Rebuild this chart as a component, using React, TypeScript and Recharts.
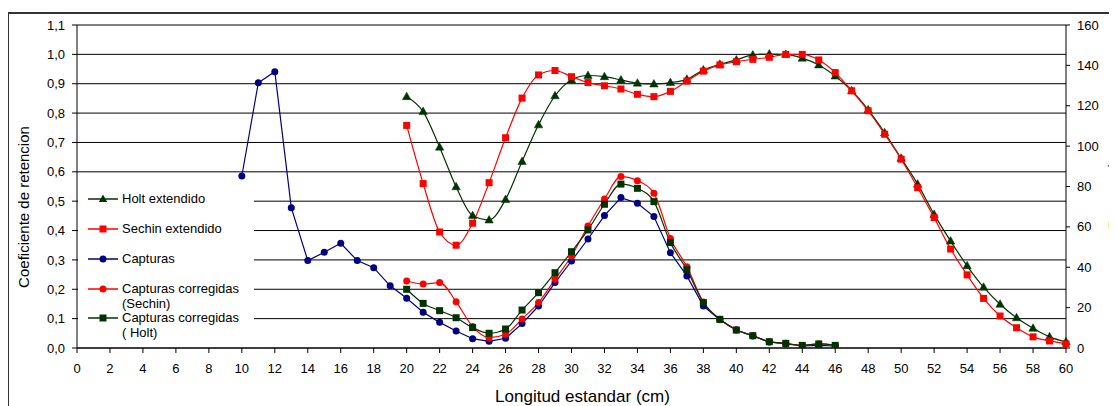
import React from 'react';
import { LineChart, Line, XAxis, YAxis, CartesianGrid } from 'recharts';

// Longitud estandar (cm)
const lengths = [10, 11, 12, 13, 14, 15, 16, 17, 18, 19, 20, 21, 22, 23, 24, 25, 26, 27, 28, 29, 30, 31, 32, 33, 34, 35, 36, 37, 38, 39, 40, 41, 42, 43, 44, 45, 46, 47, 48, 49, 50, 51, 52, 53, 54, 55, 56, 57, 58, 59, 60];

// Coeficiente de retencion (left axis), lengths 20..60
const holtExtStart = 20;
const holtExtendido = [0.856, 0.805, 0.684, 0.549, 0.451, 0.436, 0.506, 0.635, 0.760, 0.859, 0.913, 0.928, 0.924, 0.913, 0.902, 0.899, 0.904, 0.915, 0.947, 0.966, 0.981, 0.998, 1.001, 1.0, 0.987, 0.964, 0.926, 0.876, 0.811, 0.733, 0.646, 0.558, 0.455, 0.364, 0.280, 0.207, 0.149, 0.103, 0.067, 0.038, 0.021];
const sechinExtStart = 20;
const sechinExtendido = [0.758, 0.560, 0.395, 0.350, 0.425, 0.563, 0.716, 0.851, 0.930, 0.945, 0.924, 0.904, 0.893, 0.882, 0.864, 0.856, 0.874, 0.909, 0.943, 0.964, 0.975, 0.983, 0.990, 1.0, 1.0, 0.981, 0.938, 0.876, 0.808, 0.728, 0.643, 0.546, 0.444, 0.337, 0.249, 0.169, 0.109, 0.069, 0.038, 0.024, 0.014];

// Frecuencia (right axis)
const capturasStart = 10;
const capturas = [85.2, 131.4, 136.9, 69.5, 43.3, 47.4, 51.9, 43.3, 39.8, 30.8, 24.6, 17.7, 12.7, 8.4, 4.6, 3.3, 4.8, 12.1, 20.8, 32.4, 43.1, 54.0, 65.6, 74.5, 71.7, 65.1, 47.2, 35.7, 20.8, 14.0, 8.9, 6.0, 3.0, 2.0, 1.0, 1.3, 1.0];
const corrSechinStart = 20;
const capturasCorrSechin = [33.2, 31.7, 32.4, 22.9, 10.6, 5.1, 6.8, 14.4, 22.5, 34.0, 45.6, 60.4, 73.8, 84.9, 82.9, 76.6, 54.3, 40.3, 22.8, 14.3, 9.0, 6.1, 3.1, 2.3, 1.3, 2.0, 1.3];
const corrHoltStart = 20;
const capturasCorrHolt = [29.1, 22.1, 18.5, 15.0, 10.1, 7.3, 9.4, 18.8, 27.4, 37.3, 47.7, 58.5, 71.2, 81.2, 79.1, 72.5, 52.2, 38.8, 22.5, 14.2, 8.9, 6.1, 3.1, 2.3, 1.3, 2.0, 1.3];

const xTicks = [0, 2, 4, 6, 8, 10, 12, 14, 16, 18, 20, 22, 24, 26, 28, 30, 32, 34, 36, 38, 40, 42, 44, 46, 48, 50, 52, 54, 56, 58, 60];
const leftTicks = [0, 0.1, 0.2, 0.3, 0.4, 0.5, 0.6, 0.7, 0.8, 0.9, 1.0, 1.1];
const rightTicks = [0, 20, 40, 60, 80, 100, 120, 140, 160];

const GREEN = '#003300';
const RED = '#FF0000';
const NAVY = '#000080';

const pick = (arr: number[], start: number, x: number) => {
  const i = x - start;
  return i >= 0 && i < arr.length ? arr[i] : undefined;
};

const rows = lengths.map((x) => ({
  x,
  holt: pick(holtExtendido, holtExtStart, x),
  sechin: pick(sechinExtendido, sechinExtStart, x),
  capt: pick(capturas, capturasStart, x),
  cSechin: pick(capturasCorrSechin, corrSechinStart, x),
  cHolt: pick(capturasCorrHolt, corrHoltStart, x),
}));

const valid = (p: any) => typeof p.cx === 'number' && typeof p.cy === 'number' && !isNaN(p.cy);

const triDot = (color: string) => (p: any) => {
  if (!valid(p)) return <g key={`t-${p.index}`} />;
  const { cx, cy } = p;
  return <polygon key={`t-${p.index}`} points={`${cx},${cy - 4.5} ${cx - 4.2},${cy + 3} ${cx + 4.2},${cy + 3}`} fill={color} stroke={color} strokeWidth={0.5} />;
};
const sqDot = (color: string) => (p: any) => {
  if (!valid(p)) return <g key={`s-${p.index}`} />;
  return <rect key={`s-${p.index}`} x={p.cx - 3.5} y={p.cy - 3.5} width={7} height={7} fill={color} />;
};
const circDot = (color: string) => (p: any) => {
  if (!valid(p)) return <g key={`c-${p.index}`} />;
  return <circle key={`c-${p.index}`} cx={p.cx} cy={p.cy} r={3.5} fill={color} />;
};

const legendItems = [
  { lines: ['Holt extendido'], color: GREEN, shape: 'tri', top: 14 },
  { lines: ['Sechin extendido'], color: RED, shape: 'sq', top: 44 },
  { lines: ['Capturas'], color: NAVY, shape: 'circ', top: 74 },
  { lines: ['Capturas corregidas', '(Sechin)'], color: RED, shape: 'circ', top: 104 },
  { lines: ['Capturas corregidas', '( Holt)'], color: GREEN, shape: 'sq', top: 133 },
];

const Marker = ({ shape, color }: { shape: string; color: string }) => (
  <svg width={32} height={10} style={{ position: 'absolute', left: 9, top: -5 }}>
    <line x1={1} y1={5} x2={31} y2={5} stroke={color} strokeWidth={1.5} />
    {shape === 'tri' && <polygon points="16,0.5 11.8,8 20.2,8" fill={color} />}
    {shape === 'sq' && <rect x={12.5} y={1.5} width={7} height={7} fill={color} />}
    {shape === 'circ' && <circle cx={16} cy={5} r={3.5} fill={color} />}
  </svg>
);

const fmtLeft = (v: number) => v.toFixed(1).replace('.', ',');

export default function App() {
  return (
    <div style={{ position: 'relative', width: 1109, height: 398, overflow: 'hidden', fontFamily: '"Liberation Sans", Arial, sans-serif', color: '#000', background: '#fff' }}>
      <div style={{ position: 'absolute', left: 0, top: 4, width: 1200, height: 500, borderTop: '2px solid #333', borderLeft: '1px solid #333', boxSizing: 'border-box' }} />
      <LineChart width={1109} height={398} data={rows} margin={{ top: 17, right: 0, bottom: 0, left: 0 }} style={{ position: 'absolute', left: 0, top: 0 }}>
        <CartesianGrid yAxisId="left" vertical={false} horizontal stroke="#000" strokeWidth={1} />
        <XAxis dataKey="x" type="number" domain={[0, 60]} ticks={xTicks} interval={0} height={58} tickSize={5} tickMargin={11} axisLine={{ stroke: '#000' }} tickLine={{ stroke: '#000' }} tick={{ fill: '#000', fontSize: 13 }} allowDecimals={false} />
        <YAxis yAxisId="left" orientation="left" width={69} domain={[0, 1.1]} ticks={leftTicks} interval={0} tickFormatter={fmtLeft} tickSize={5} tickMargin={7} axisLine={{ stroke: '#000' }} tickLine={{ stroke: '#000' }} tick={{ fill: '#000', fontSize: 13 }} allowDataOverflow />
        <YAxis yAxisId="right" orientation="right" width={51} domain={[0, 160]} ticks={rightTicks} interval={0} tickSize={4} tickMargin={7} axisLine={{ stroke: '#000' }} tickLine={{ stroke: '#000' }} tick={{ fill: '#000', fontSize: 13 }} allowDataOverflow />
        <Line yAxisId="left" dataKey="holt" type="monotone" stroke={GREEN} strokeWidth={1.2} dot={triDot(GREEN)} activeDot={false} isAnimationActive={false} />
        <Line yAxisId="left" dataKey="sechin" type="monotone" stroke={RED} strokeWidth={1.2} dot={sqDot(RED)} activeDot={false} isAnimationActive={false} />
        <Line yAxisId="right" dataKey="capt" type="linear" stroke={NAVY} strokeWidth={1.2} dot={circDot(NAVY)} activeDot={false} isAnimationActive={false} />
        <Line yAxisId="right" dataKey="cSechin" type="monotone" stroke={RED} strokeWidth={1.2} dot={circDot(RED)} activeDot={false} isAnimationActive={false} />
        <Line yAxisId="right" dataKey="cHolt" type="monotone" stroke={GREEN} strokeWidth={1.2} dot={sqDot(GREEN)} activeDot={false} isAnimationActive={false} />
      </LineChart>
      <div style={{ position: 'absolute', left: 70, top: 177, width: 176, height: 162, background: '#fff' }}>
        {legendItems.map((it) => (
          <div key={it.lines[0] + it.top} style={{ position: 'absolute', left: 0, top: it.top, width: 176 }}>
            <Marker shape={it.shape} color={it.color} />
            {it.lines.map((t, j) => (
              <div key={j} style={{ position: 'absolute', left: 44, top: -8 + j * 15, fontSize: 13, lineHeight: '15px', whiteSpace: 'pre' }}>{t}</div>
            ))}
          </div>
        ))}
      </div>
      <div style={{ position: 'absolute', left: 14.5, top: 199, transform: 'translate(-50%, -50%) rotate(-90deg)', fontSize: 15, lineHeight: '15px', whiteSpace: 'nowrap' }}>Coeficiente de retencion</div>
      <div style={{ position: 'absolute', left: 1105, top: 185, transform: 'translate(-50%, -50%) rotate(-90deg)', fontSize: 15, lineHeight: '15px', whiteSpace: 'nowrap' }}>Frecuencia</div>
      <div style={{ position: 'absolute', left: 574.5, top: 388, transform: 'translate(-50%, -50%)', fontSize: 17, lineHeight: '17px', whiteSpace: 'nowrap' }}>Longitud estandar (cm)</div>
    </div>
  );
}
